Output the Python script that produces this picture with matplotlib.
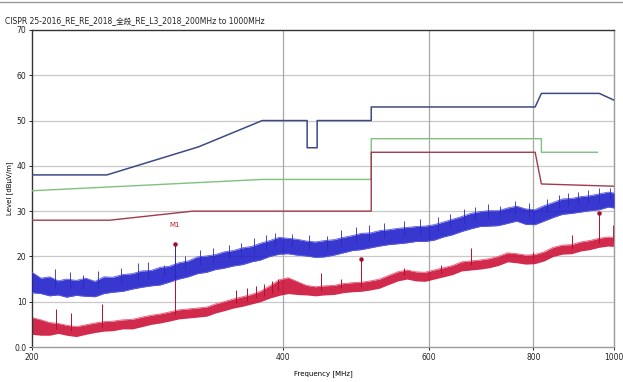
import matplotlib
matplotlib.use("Agg")
import matplotlib.pyplot as plt
from matplotlib.lines import Line2D

plt.rcParams['font.family'] = ['DejaVu Sans', 'Noto Sans CJK SC']

# sweep points (MHz)
freq = [200, 205, 210, 215, 220, 226, 232, 238, 244, 250, 257, 264, 271, 278, 285, 292,
        300, 308, 316, 324, 332, 340, 349, 358, 367, 376, 386, 396, 406, 416, 427, 438,
        449, 461, 473, 485, 497, 510, 523, 536, 550, 564, 578, 593, 608, 624, 640, 656,
        673, 690, 708, 726, 745, 764, 783, 803, 824, 845, 867, 889, 912, 935, 959, 984, 1000]

# peak detector trace (blue band)
blue_hi = [16.5, 15.2, 15.5, 14.6, 15.0, 14.7, 15.2, 14.5, 15.5, 15.4, 16.0, 16.2, 16.8, 16.9,
           17.6, 17.8, 18.6, 19.0, 19.9, 20.1, 20.4, 21.0, 21.3, 21.9, 22.2, 22.9, 23.5, 24.2,
           24.0, 23.8, 23.4, 23.2, 23.5, 23.7, 24.2, 24.6, 25.1, 25.2, 25.7, 25.9, 26.2, 26.4,
           26.6, 26.7, 27.0, 27.6, 28.2, 28.8, 29.5, 29.9, 30.1, 30.1, 30.7, 31.1, 30.5, 30.3,
           31.2, 31.9, 32.7, 32.8, 33.2, 33.4, 33.8, 34.2, 34.0]
blue_lo = [12.0, 11.8, 11.3, 11.5, 11.0, 11.4, 11.2, 11.1, 11.8, 12.1, 12.3, 12.8, 13.2, 13.5,
           13.7, 14.3, 15.0, 15.5, 16.2, 16.5, 17.1, 17.4, 17.9, 18.2, 18.8, 19.2, 20.0, 20.5,
           20.6, 20.3, 20.1, 19.8, 19.9, 20.3, 20.8, 21.3, 21.5, 21.9, 22.3, 22.6, 22.8, 23.0,
           23.3, 23.3, 23.6, 24.3, 24.8, 25.5, 26.1, 26.6, 26.7, 26.8, 27.3, 27.8, 27.1, 27.0,
           27.8, 28.6, 29.3, 29.5, 29.8, 30.1, 30.3, 30.9, 30.7]
blue_spike_f = [213, 222, 230, 240, 256, 268, 276, 288, 297, 305, 318, 330, 345, 356, 370, 382,
                392, 410, 430, 452, 470, 490, 508, 530, 560, 585, 615, 635, 660, 680, 705, 730,
                760, 790, 830, 860, 880, 905, 930, 960, 990]
blue_spike_base = [13.0, 12.8, 13.0, 13.0, 14.0, 14.7, 15.1, 15.7, 16.5, 17.0, 18.0, 18.7,
                   19.4, 19.9, 20.6, 21.5, 22.1, 22.2, 21.7, 21.7, 22.4, 23.1, 23.5, 24.1,
                   24.6, 25.0, 25.6, 26.4, 27.3, 28.0, 28.4, 28.6, 29.4, 28.8, 29.7, 30.8,
                   31.1, 31.4, 31.7, 32.0, 32.6]
blue_spike_v = [17.2, 16.5, 15.8, 16.8, 17.5, 18.5, 18.8, 18.2, 22.7, 20.0, 21.5, 21.8, 22.5,
                23.0, 24.0, 24.8, 25.2, 25.0, 24.8, 24.6, 25.8, 26.5, 27.0, 27.3, 27.8, 28.2,
                28.6, 29.4, 30.5, 31.0, 31.6, 31.2, 32.3, 31.8, 32.6, 33.5, 34.0, 34.3, 34.6,
                35.0, 35.2]

# average detector trace (red band)
red_hi = [6.5, 6.0, 5.4, 5.2, 4.8, 4.5, 4.9, 5.3, 5.6, 5.7, 6.0, 6.1, 6.6, 7.0, 7.3, 7.7,
          8.2, 8.4, 8.6, 8.8, 9.5, 10.0, 10.6, 11.1, 11.6, 12.3, 13.5, 14.8, 15.3, 14.5, 13.6,
          13.3, 13.5, 13.6, 14.0, 14.2, 14.3, 14.6, 15.0, 15.8, 16.6, 17.0, 16.6, 16.5, 17.0,
          17.5, 18.0, 18.8, 19.0, 19.2, 19.5, 20.0, 20.8, 20.6, 20.3, 20.4, 21.0, 22.0, 22.5,
          22.6, 23.2, 23.5, 24.0, 24.3, 24.2]
red_lo = [2.8, 2.6, 2.6, 3.0, 2.6, 2.3, 2.8, 3.2, 3.5, 3.6, 4.0, 4.0, 4.5, 5.0, 5.3, 5.7,
          6.2, 6.4, 6.6, 6.8, 7.5, 8.0, 8.6, 9.0, 9.5, 10.0, 10.8, 11.4, 11.8, 11.6, 11.5,
          11.3, 11.5, 11.6, 12.0, 12.2, 12.3, 12.6, 13.0, 13.8, 14.6, 15.0, 14.6, 14.5, 15.0,
          15.5, 16.0, 16.8, 17.0, 17.2, 17.5, 18.0, 18.8, 18.6, 18.3, 18.4, 19.0, 20.0, 20.5,
          20.6, 21.2, 21.5, 22.0, 22.3, 22.2]
red_spike_f = [213.5, 222.7, 243, 297, 352, 362, 372, 380, 388, 395, 445, 470, 497, 560,
               620, 674, 800, 891, 958, 996]
red_spike_base = [4.0, 3.6, 4.5, 7.0, 9.8, 10.2, 10.8, 11.3, 12.0, 12.5, 12.4, 13.0, 13.3,
                  15.8, 16.4, 18.0, 19.4, 21.6, 23.0, 23.2]
red_spike_v = [8.5, 7.5, 9.5, 22.5, 12.5, 13.0, 13.5, 14.0, 14.5, 15.0, 16.3, 15.0, 19.4,
               17.5, 18.0, 21.8, 21.0, 24.7, 29.5, 27.0]

marker_f = [297, 497, 958]
marker_v = [22.7, 19.4, 29.5]

# limit lines
blue_lim_f = [200, 246, 317, 378, 428, 428, 440, 440, 511, 511, 804, 818, 960, 1000]
blue_lim_v = [38, 38, 44.2, 50, 50, 44, 44, 50, 50, 53, 53, 56, 56, 54.5]
green_lim_f = [200, 378, 511, 511, 818, 818, 955]
green_lim_v = [34.5, 37, 37, 46, 46, 43, 43]
red_lim_f = [200, 248, 312, 511, 511, 804, 818, 1000]
red_lim_v = [28, 28, 30, 30, 43, 43, 36, 35.5]

x_ticks = [200, 400, 600, 800, 1000]
y_ticks = [0, 10, 20, 30, 40, 50, 60, 70]
y_tick_labels = ["0.0", "10", "20", "30", "40", "50", "60", "70"]

fig = plt.figure(figsize=(6.23, 3.82), dpi=100)
ax = fig.add_axes([0.0514, 0.0916, 0.9342, 0.8299])

ax.set_xscale('log')
ax.set_xlim(200, 1000)
ax.set_ylim(0, 70)

# grid
for y in y_ticks[1:-1]:
    ax.axhline(y, color='#c8c8c8', lw=0.9, zorder=0)
for x in x_ticks[1:-1]:
    ax.axvline(x, color='#a8a8a8', lw=0.9, zorder=0)

# red trace (below blue)
ax.fill_between(freq, red_lo, red_hi, color='#cc0c34', alpha=0.88, lw=0, zorder=2)
ax.plot(freq, red_hi, color='#e85a78', lw=0.6, zorder=2)
ax.vlines(red_spike_f, red_spike_base, red_spike_v, color='#b01030', lw=0.7, zorder=2)

# blue trace
ax.fill_between(freq, blue_lo, blue_hi, color='#2222cc', alpha=0.9, lw=0, zorder=3)
ax.plot(freq, blue_hi, color='#5a5ae0', lw=0.6, zorder=3)
ax.plot(freq, blue_lo, color='#5a5ae0', lw=0.6, zorder=3)
ax.vlines(blue_spike_f, blue_spike_base, blue_spike_v, color='#2a2ab8', lw=0.6, zorder=3)

ax.plot(marker_f, marker_v, 'o', color='#a01028', ms=2.2, zorder=5)
ax.text(marker_f[0], 27.0, "M1", color='#c02030', fontsize=5, ha='center', va='center', zorder=5)

# limits
ax.plot(blue_lim_f, blue_lim_v, color='#3c4a82', lw=1.1, zorder=4)
ax.plot(green_lim_f, green_lim_v, color='#80c080', lw=1.0, zorder=4)
ax.plot(red_lim_f, red_lim_v, color='#a23a4c', lw=1.0, zorder=4)

ax.set_xticks(x_ticks)
ax.set_xticklabels([str(v) for v in x_ticks])
ax.xaxis.set_minor_locator(matplotlib.ticker.NullLocator())
ax.set_yticks(y_ticks)
ax.set_yticklabels(y_tick_labels)
ax.tick_params(axis='both', labelsize=5.5, length=2.5, width=0.7, pad=1.5, colors='#222222')

for side in ['left', 'top']:
    ax.spines[side].set_color('#333333')
    ax.spines[side].set_linewidth(1.0)
for side in ['right', 'bottom']:
    ax.spines[side].set_color('#9a9a9a')
    ax.spines[side].set_linewidth(1.0)

ax.set_xlabel("Frequency [MHz]", fontsize=5, labelpad=6)
ax.set_ylabel("Level [dBµV/m]", fontsize=5, labelpad=1)

fig.text(0.008, 0.945, "CISPR 25-2016_RE_RE_2018_全段_RE_L3_2018_200MHz to 1000MHz",
         fontsize=5.5, ha='left', va='center', color='#222222')
fig.add_artist(Line2D([0, 1], [0.994, 0.994], transform=fig.transFigure,
                      color='#9a9a9a', lw=1.0))

fig.savefig("out.png", dpi=100)
